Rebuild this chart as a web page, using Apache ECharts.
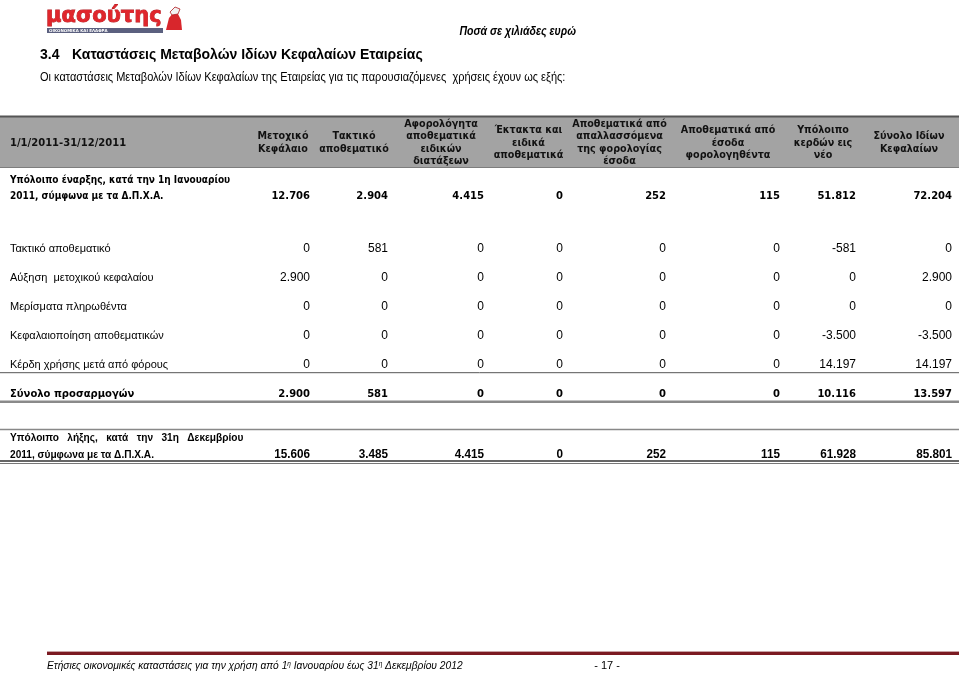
<!DOCTYPE html>
<html>
<head>
<meta charset="utf-8">
<title>Καταστάσεις Μεταβολών Ιδίων Κεφαλαίων Εταιρείας</title>
<script src="https://cdn.jsdelivr.net/npm/echarts@6/dist/echarts.min.js"></script>
<style>
html, body { margin: 0; padding: 0; background: #fff; }
#main { width: 959px; height: 673px; }
</style>
</head>
<body>
<div id="main"></div>
<script>
// επικεφαλίδες στηλών
var periodLabel = '1/1/2011-31/12/2011';
var columns = [
    'Μετοχικό\nΚεφάλαιο',
    'Τακτικό\nαποθεματικό',
    'Αφορολόγητα\nαποθεματικά\nειδικών\nδιατάξεων',
    'Έκτακτα και\nειδικά\nαποθεματικά',
    'Αποθεματικά από\nαπαλλασσόμενα\nτης φορολογίας\nέσοδα',
    'Αποθεματικά από\nέσοδα\nφορολογηθέντα',
    'Υπόλοιπο\nκερδών εις\nνέο',
    'Σύνολο Ιδίων\nΚεφαλαίων'
];

// γραμμές πίνακα
var rowNames = [
    'Υπόλοιπο έναρξης, κατά την 1η Ιανουαρίου\n2011, σύμφωνα με τα Δ.Π.Χ.Α.',
    'Τακτικό αποθεματικό',
    'Αύξηση  μετοχικού κεφαλαίου',
    'Μερίσματα πληρωθέντα',
    'Κεφαλαιοποίηση αποθεματικών',
    'Κέρδη χρήσης μετά από φόρους',
    'Σύνολο προσαρμογών',
    'Υπόλοιπο   λήξης,   κατά   την   31η   Δεκεμβρίου\n2011, σύμφωνα με τα Δ.Π.Χ.Α.'
];

// ποσά σε χιλιάδες ευρώ
var openingBalance = [12706, 2904, 4415, 0, 252, 115, 51812, 72204];
var legalReserve   = [0, 581, 0, 0, 0, 0, -581, 0];
var capitalIncrease = [2900, 0, 0, 0, 0, 0, 0, 2900];
var dividendsPaid  = [0, 0, 0, 0, 0, 0, 0, 0];
var capitalisation = [0, 0, 0, 0, 0, 0, -3500, -3500];
var yearProfit     = [0, 0, 0, 0, 0, 0, 14197, 14197];
var totalAdjust    = [2900, 581, 0, 0, 0, 0, 10116, 13597];
var closingBalance = [15606, 3485, 4415, 0, 252, 115, 61928, 85801];

var rowValues = [openingBalance, legalReserve, capitalIncrease, dividendsPaid,
    capitalisation, yearProfit, totalAdjust, closingBalance];

// διάταξη: όρια στηλών και θέσεις γραμμών (με κενές γραμμές)
var colEdges = [0, 251, 315, 393, 489, 568, 671, 785, 861, 957];
var rowSlot = [0, 2, 3, 4, 5, 6, 7, 9];
var slotCount = 10;
var cellPad = 5;

var F_LABEL = "11px 'Liberation Sans', Arial, sans-serif";
var F_VALUE = "12px 'Liberation Sans', Arial, sans-serif";
var F_BOLD = "bold 10px 'DejaVu Sans', sans-serif";
var F_HEAD = "bold 9.6px 'DejaVu Sans', sans-serif";
var F_NARROW = "bold 11.5px 'Liberation Sans', Arial, sans-serif";
var F_NARROWV = "bold 13px 'Liberation Sans', Arial, sans-serif";

// στυλ ανά γραμμή
var plain = { labelFont: F_LABEL, valueFont: F_VALUE, labelDy: 0, valueDy: 0 };
var rowStyle = [
    { labelFont: F_BOLD, valueFont: F_BOLD, labelDy: -3, valueDy: 5, lh: 16, sx: 0.9 },
    plain, plain, plain, plain,
    { labelFont: F_LABEL, valueFont: F_VALUE, labelDy: 0, valueDy: 0, lines: [[7.7, '#555', 1]] },
    { labelFont: F_BOLD, valueFont: F_BOLD, labelDy: 0, valueDy: 0, lines: [[7.7, '#8a8a8a', 2.5]] },
    { labelFont: F_NARROW, valueFont: F_NARROWV, labelDy: -6, valueDy: 2, lh: 17, sx: 0.88, vsx: 0.9,
      lines: [[-22.5, '#888', 1.5], [9, '#333', 1.3], [11.5, '#777', 1.2]] }
];

function fmt(v) {
    var s = String(Math.abs(v)).replace(/\B(?=(\d{3})+(?!\d))/g, '.');
    return (v < 0 ? '-' : '') + s;
}

var slots = [];
for (var i = 0; i < slotCount; i++) slots.push('s' + i);

var cellData = [];
rowValues.forEach(function (vals, r) {
    vals.forEach(function (v, c) {
        cellData.push([c, rowSlot[r], v, r]);
    });
});
var labelData = rowNames.map(function (n, r) { return [0, rowSlot[r], r]; });
var headData = [[-1, 0]].concat(columns.map(function (n, c) { return [c, 0]; }));

var myChart = echarts.init(document.getElementById('main'), null, { renderer: 'canvas' });

var option = {
    animation: false,
    backgroundColor: '#fff',
    grid: [
        { left: 0, right: 0, top: 176.5, height: 290 },
        { left: 0, right: 0, top: 117, height: 52 }
    ],
    xAxis: [
        { type: 'value', min: 0, max: 959, show: false, gridIndex: 0 },
        { type: 'value', min: 0, max: 959, show: false, gridIndex: 1 }
    ],
    yAxis: [
        { type: 'category', data: slots, inverse: true, show: false, gridIndex: 0 },
        { type: 'category', data: ['head'], show: false, gridIndex: 1 }
    ],
    graphic: [
        // λογότυπο
        { type: 'text', x: 46, y: 17, z: 5, style: { text: 'μασούτης', font: "bold 21px 'DejaVu Sans', sans-serif",
            fill: '#e0262c', verticalAlign: 'middle', stroke: '#b01a20', lineWidth: 0.8 } },
        { type: 'rect', shape: { x: 47, y: 28, width: 116, height: 5 }, z: 5, style: { fill: '#5b607f' } },
        { type: 'text', x: 49, y: 30.5, z: 6, style: { text: 'ΟΙΚΟΝΟΜΙΚΑ ΚΑΙ ΕΛΑΦΡΑ', font: "bold 4px 'DejaVu Sans'",
            fill: '#fff', verticalAlign: 'middle' } },
        { type: 'polygon', z: 5, shape: { points: [[166, 30], [169, 18], [173, 13], [178, 14], [181, 20], [182, 30]] },
            style: { fill: '#d8262c' } },
        { type: 'polygon', z: 6, shape: { points: [[170, 12], [175, 7], [180, 9], [178, 14], [172, 15]] },
            style: { fill: '#f2f2f2', stroke: '#b01a20', lineWidth: 0.8 } },
        // κείμενα σελίδας
        { type: 'text', x: 576, y: 32, scaleX: 0.88, style: { text: 'Ποσά σε χιλιάδες ευρώ', align: 'right', verticalAlign: 'middle',
            font: "italic bold 12px 'Liberation Sans', sans-serif", fill: '#000' } },
        { type: 'text', x: 40, y: 55, style: { text: '3.4', verticalAlign: 'middle',
            font: "bold 14px 'Liberation Sans', sans-serif", fill: '#000' } },
        { type: 'text', x: 72, y: 55, style: { text: 'Καταστάσεις Μεταβολών Ιδίων Κεφαλαίων Εταιρείας',
            verticalAlign: 'middle', font: "bold 14px 'Liberation Sans', sans-serif", fill: '#000' } },
        { type: 'text', x: 40, y: 77, scaleX: 0.815, style: { text: 'Οι καταστάσεις Μεταβολών Ιδίων Κεφαλαίων της Εταιρείας για τις παρουσιαζόμενες  χρήσεις έχουν ως εξής:',
            verticalAlign: 'middle', font: "13.5px 'Liberation Sans', sans-serif", fill: '#000' } },
        // γκρι ζώνη επικεφαλίδων
        { type: 'rect', z: 0, shape: { x: 0, y: 117, width: 959, height: 50 }, style: { fill: '#a3a3a3' } },
        { type: 'rect', z: 1, shape: { x: 0, y: 115.5, width: 959, height: 2 }, style: { fill: '#555' } },
        { type: 'rect', z: 1, shape: { x: 0, y: 167, width: 959, height: 1 }, style: { fill: '#7d7d7d' } },
        // υποσέλιδο
        { type: 'rect', shape: { x: 47, y: 652, width: 912, height: 3 }, style: { fill: '#7b1a22' } },
        { type: 'rect', shape: { x: 47, y: 651, width: 912, height: 1 }, style: { fill: '#c9a2a5' } },
        { type: 'text', x: 47, y: 666, scaleX: 0.93, style: {
            text: 'Ετήσιες οικονομικές καταστάσεις για την χρήση από 1{s|η} Ιανουαρίου έως 31{s|η} Δεκεμβρίου 2012',
            verticalAlign: 'middle', font: "italic 11px 'Liberation Sans', sans-serif", fill: '#000',
            rich: { s: { fontSize: 7, verticalAlign: 'top', fontStyle: 'italic' } } } },
        { type: 'text', x: 607, y: 666, style: { text: '- 17 -', align: 'center', verticalAlign: 'middle',
            font: "11px 'Liberation Sans', sans-serif", fill: '#000' } }
    ],
    series: [
        {
            // επικεφαλίδες
            type: 'custom',
            xAxisIndex: 1,
            yAxisIndex: 1,
            z: 3,
            data: headData,
            renderItem: function (params, api) {
                var c = api.value(0);
                if (c < 0) {
                    var p0 = api.coord([10, 0]);
                    return { type: 'text', x: p0[0], y: p0[1], style: { text: periodLabel, font: F_BOLD,
                        fill: '#111', verticalAlign: 'middle', align: 'left' } };
                }
                var p = api.coord([(colEdges[c + 1] + colEdges[c + 2]) / 2, 0]);
                return { type: 'text', x: p[0], y: p[1], style: { text: columns[c], font: F_HEAD,
                    fill: '#111', align: 'center', verticalAlign: 'middle', lineHeight: 12.5 } };
            }
        },
        {
            // ονόματα γραμμών και διαχωριστικές γραμμές
            type: 'custom',
            z: 3,
            data: labelData,
            renderItem: function (params, api) {
                var slot = api.value(1), r = api.value(2);
                var st = rowStyle[r];
                var p = api.coord([10, slot]);
                var kids = [{ type: 'text', x: p[0], y: p[1] + st.labelDy, scaleX: st.sx || 1,
                    style: { text: rowNames[r], font: st.labelFont,
                    fill: '#000', verticalAlign: 'middle', align: 'left', lineHeight: st.lh || 14 } }];
                (st.lines || []).forEach(function (ln) {
                    var a = api.coord([0, slot]), b = api.coord([959, slot]);
                    kids.push({ type: 'line', shape: { x1: a[0], y1: a[1] + ln[0], x2: b[0], y2: b[1] + ln[0] },
                        style: { stroke: ln[1], lineWidth: ln[2] } });
                });
                return { type: 'group', children: kids };
            }
        },
        {
            // τιμές κελιών
            type: 'custom',
            z: 3,
            data: cellData,
            renderItem: function (params, api) {
                var c = api.value(0), slot = api.value(1), v = api.value(2), r = api.value(3);
                var st = rowStyle[r];
                var p = api.coord([colEdges[c + 2] - cellPad, slot]);
                return { type: 'text', x: p[0], y: p[1] + st.valueDy, scaleX: st.vsx || 1,
                    style: { text: fmt(v), font: st.valueFont,
                    fill: '#000', align: 'right', verticalAlign: 'middle' } };
            }
        }
    ]
};

myChart.setOption(option);

window.addEventListener('resize', function () {
    myChart.resize();
});
</script>
</body>
</html>
